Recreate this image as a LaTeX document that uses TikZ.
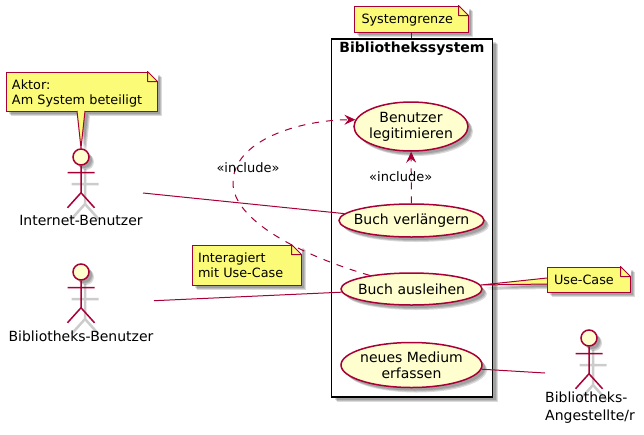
\documentclass[tikz,border=0pt]{standalone}
\usepackage{fontspec}
\setmainfont{DejaVu Sans}
\usetikzlibrary{arrows.meta,shapes.geometric,shadows}
\definecolor{umlline}{HTML}{A80036}
\definecolor{umlfill}{HTML}{FEFECE}
\definecolor{notefill}{HTML}{FBFB77}
\tikzset{
  >={Stealth[length=11pt,width=10pt,inset=4pt]},
  {soft shadow/.style} ={drop shadow={shadow xshift=3pt,shadow yshift=-3pt,fill=black,opacity=.14},
                  drop shadow={shadow xshift=4pt,shadow yshift=-4pt,fill=black,opacity=.14},
                  drop shadow={shadow xshift=5pt,shadow yshift=-5pt,fill=black,opacity=.14}},
  {usecase/.style} ={ellipse,draw=umlline,fill=umlfill,line width=1.5pt,inner xsep=-25pt,inner ysep=-10pt,
                  align=center,soft shadow,font=\fontsize{14}{16}\selectfont},
  {notebox/.style} ={rectangle,draw=umlline,fill=notefill,line width=1pt,inner sep=0,
                  align=left,soft shadow,font=\fontsize{12.8}{15}\selectfont},
  {notetip/.style} ={draw=umlline,fill=notefill,line width=1pt,soft shadow},
  {sysbox/.style} ={rectangle,draw=black,fill=white,line width=1.5pt,soft shadow},
  {actor head/.style} ={circle,draw=umlline,fill=umlfill,line width=1.5pt,inner sep=0,
                  minimum size=16pt,soft shadow},
  {actor limb/.style} ={draw=umlline,line width=1.5pt},
  {actor ghost/.style} ={draw=black,opacity=.2,line width=2.5pt},
  {actor label/.style} ={inner sep=0,align=left,font=\fontsize{14}{17.5}\selectfont},
  {assoc/.style} ={draw=umlline,line width=1pt},
  {incl/.style} ={assoc,->,dash pattern=on 7pt off 7pt},
  {incl label/.style} ={inner sep=0,font=\fontsize{13}{15}\selectfont},
}
% stick figure below the head node #1
\newcommand{\actorfig}[3]{
  \draw[actor ghost] (#2+4,#3+12) -- ++(0,35) ++(-13.5,-20) -- ++(27,0) ++(-13.5,20) -- ++(-13.5,15) ++(13.5,-15) -- ++(13.5,15);
  \node[actor head] (#1) at (#2,#3) {};
  \draw[actor limb] (#1.south) -- ++(0,27) -- ++(-13.5,15) ++(13.5,-15) -- ++(13.5,15)
    (#2-13.5,#3+15.5) -- ++(27,0);
}
% white corner and fold of note #1
\newcommand{\notefold}[1]{
  \fill[white] (#1.north east) ++(-10,-.5) -- ++(10.5,0) -- ++(0,10.5) -- cycle;
  \draw[assoc,line join=round,fill=notefill] (#1.north east) ++(-10,0) -- ++(10,10) -- ++(-10,0) -- cycle;
}

\begin{document}
\begin{tikzpicture}[x=1pt,y=-1pt]
\useasboundingbox (0,0) rectangle (644,434);
% system
\node[sysbox,minimum width=161pt,minimum height=358pt] (sys) at (412,218) {};
\node[inner sep=0,font=\fontsize{14}{16}\selectfont\bfseries] (systitle) at (412,49) {Bibliothekssystem};
% use cases
\node[usecase,minimum width=114pt,minimum height=49pt] (legit) at (411,126.5) {Benutzer\\legitimieren};
\node[usecase,minimum width=145pt,minimum height=33pt] (verl) at (411.5,220.5) {Buch verlängern};
\node[usecase,minimum width=141pt,minimum height=32pt] (ausl) at (411.5,289) {Buch ausleihen};
\node[usecase,minimum width=141pt,minimum height=45pt] (medium) at (411.5,365) {neues Medium\\erfassen};
% notes
\coordinate (aktortip) at (81,148);
\coordinate (caseleft) at (481,285);
\node[notebox,minimum width=151pt,minimum height=39pt,text width=139pt,text depth=14pt] (aktornote) at (81.5,91.5) {Aktor:\\Am System beteiligt};
\draw[notetip] (77,111) -- (aktortip) -- (85,111);
\notefold{aktornote}
\node[notebox,minimum width=114pt,minimum height=26pt,text width=99pt,text depth=1pt] (sysnote) at (411,19) {Systemgrenze};
\notefold{sysnote}
\draw[assoc] (sysnote.south) -- (sysnote.south |- sys.north);
\node[notebox,minimum width=109pt,minimum height=40pt,text width=97pt,text depth=15pt] (mitnote) at (246.5,265) {Interagiert\\mit Use-Case};
\notefold{mitnote}
\draw[notetip] (547,278) -- (caseleft) -- (547,284);
\node[notebox,minimum width=83pt,minimum height=25pt,text width=69pt] (casenote) at (588.5,279.5) {Use-Case};
\notefold{casenote}
% actors
\actorfig{ibhead}{81}{157}
\node[actor label] (iblabel) at (81,220) {Internet-Benutzer};
\actorfig{bbhead}{81}{272}
\node[actor label] (bblabel) at (81,336) {Bibliotheks-Benutzer};
\actorfig{bahead}{589}{338}
\node[actor label,anchor=north west] (balabel) at (545,392) {Bibliotheks-\\Angestellte/r};
% connectors
\coordinate (ibend) at (143,193);
\coordinate (bbend) at (154,300.7);
\coordinate (baend) at (545,373);
\draw[assoc] (ibend) -- (verl);
\draw[assoc] (bbend) -- (ausl);
\draw[assoc] (medium) -- (baend);
\draw[incl] (verl) -- (legit);
\coordinate (inclbend) at (233,183);
\draw[incl] (ausl.162) .. controls (300,255) and (233,220) .. (inclbend)
  .. controls (233,140) and (300,120) .. (legit.173);
\node[incl label] (incl1) at (248,168) {«include»};
\node[incl label] (incl2) at (400.7,177) {«include»};
\end{tikzpicture}
\end{document}
